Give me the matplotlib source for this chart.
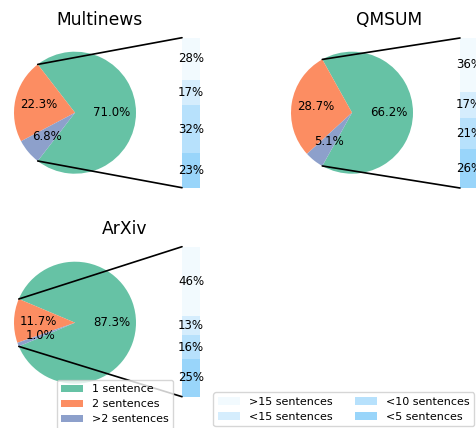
import numpy as np
import matplotlib
matplotlib.use("Agg")
import matplotlib.pyplot as plt
from matplotlib.patches import ConnectionPatch

W, H = 477, 428

datasets = ["Multinews", "QMSUM", "ArXiv"]
pie_labels = ["1 sentence", "2 sentences", ">2 sentences"]
pie_colors = ["#66c2a5", "#fc8d62", "#8da0cb"]
multinews_pie = [71.0, 22.3, 6.8]
qmsum_pie = [66.2, 28.7, 5.1]
arxiv_pie = [87.3, 11.7, 1.0]

# bar segments, bottom to top
bar_labels = ["<5 sentences", "<10 sentences", "<15 sentences", ">15 sentences"]
multinews_bar = [23, 32, 17, 28]
qmsum_bar = [26, 21, 17, 36]
arxiv_bar = [25, 16, 13, 46]

BAR_BASE = "#87cefa"
BAR_ALPHAS = [0.85, 0.6, 0.35, 0.1]
WIDTH = 0.2
R_PX = 61


def rect(left, top, w, h):
    # pixel box (top-left origin) -> figure fraction
    return [left / W, 1 - (top + h) / H, w / W, h / H]


def pie_of(fig, cx, cy, vals):
    half = 1.25 * R_PX
    ax = fig.add_axes(rect(cx - half, cy - half, 2 * half, 2 * half))
    it = iter(vals)
    start = -180 * vals[0] / sum(vals)
    wedges, *_ = ax.pie(vals, colors=pie_colors, startangle=start,
                        autopct=lambda p: f"{next(it):.1f}%",
                        textprops={"fontsize": 8.5})
    return ax, wedges


def bar_of(fig, bx, top, vals):
    ax = fig.add_axes(rect(bx - 45, top, 90, 150))
    bottom = 0
    conts = []
    for v, a in zip(vals, BAR_ALPHAS):
        bc = ax.bar(0, v, WIDTH, bottom=bottom, color=BAR_BASE, alpha=a)
        ax.bar_label(bc, labels=[f"{v}%"], label_type="center", fontsize=8.5)
        bottom += v
        conts.append(bc)
    ax.set_xlim(-0.5, 0.5)
    ax.set_ylim(0, sum(vals))
    ax.axis("off")
    return ax, conts


def connect(fig, pie_ax, wedge, bar_ax, total):
    for ang, y in ((wedge.theta2, total), (wedge.theta1, 0)):
        x0 = np.cos(np.radians(ang))
        y0 = np.sin(np.radians(ang))
        con = ConnectionPatch(xyA=(-WIDTH / 2, y), coordsA=bar_ax.transData,
                              xyB=(x0, y0), coordsB=pie_ax.transData,
                              color="black", linewidth=1.2)
        fig.add_artist(con)


fig = plt.figure(figsize=(W / 100, H / 100), dpi=100)

layout = [
    (multinews_pie, multinews_bar, (75, 112.7), (191, 37.7), (100, 25)),
    (qmsum_pie, qmsum_bar, (352, 112.7), (469, 38), (389, 25)),
    (arxiv_pie, arxiv_bar, (75, 322.7), (191, 246.7), (125, 234.3)),
]

for name, (pv, bv, pc, bp, tp) in zip(datasets, layout):
    pax, wedges = pie_of(fig, pc[0], pc[1], pv)
    bax, conts = bar_of(fig, bp[0], bp[1], bv)
    connect(fig, pax, wedges[0], bax, sum(bv))
    fig.text(tp[0] / W, 1 - tp[1] / H, name, fontsize=12.3,
             ha="center", va="baseline")

fig.legend(wedges, pie_labels, loc="upper left", fontsize=8,
           bbox_to_anchor=(56.7 / W, 1 - 380 / H), borderaxespad=0,
           labelspacing=0.45)

order = [3, 2, 1, 0]
fig.legend([conts[i] for i in order], [bar_labels[i] for i in order],
           loc="upper left", ncol=2, fontsize=8,
           bbox_to_anchor=(213.3 / W, 1 - 392.3 / H), borderaxespad=0,
           labelspacing=0.45)

fig.savefig("out.png", dpi=100)
